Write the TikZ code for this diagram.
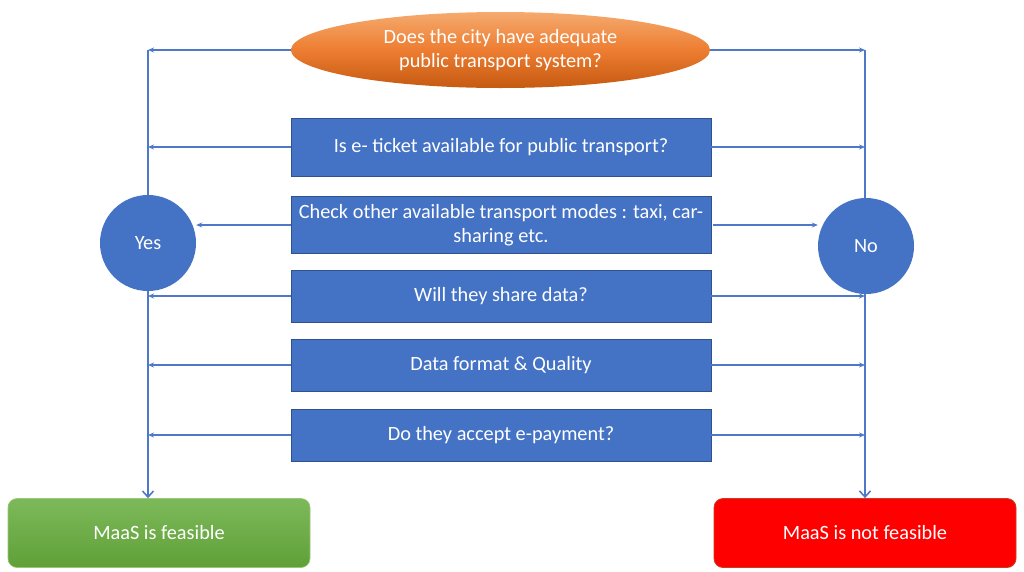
\documentclass[tikz,border=0pt]{standalone}
\usepackage{fontspec}
\setmainfont{Carlito}
\usetikzlibrary{shapes.geometric,arrows.meta}
\definecolor{boxblue}{RGB}{68,114,196}
\definecolor{boxedge}{RGB}{47,82,143}
\definecolor{lineblue}{RGB}{80,120,200}
\definecolor{orTop}{RGB}{245,170,110}
\definecolor{orBot}{RGB}{197,90,17}
\definecolor{grTop}{RGB}{125,185,90}
\definecolor{grBot}{RGB}{95,160,55}
\definecolor{rdEdge}{RGB}{200,60,40}
\begin{document}
\begin{tikzpicture}[x=1pt,y=-1pt,
  every node/.style={font=\fontsize{20.3}{24}\selectfont, text=white},
  qbox/.style={rectangle, fill=boxblue, draw=boxedge, line width=0.6pt,
    minimum width=420pt, minimum height=52pt, inner sep=0pt, align=center},
  qoval/.style={ellipse, top color=orTop, bottom color=orBot, middle color={rgb,255:red,237;green,125;blue,49},
    minimum width=419pt, minimum height=76pt, inner sep=0pt, align=center},
  answer/.style={circle, fill=boxblue, minimum size=96pt, inner sep=0pt},
  result/.style={rectangle, rounded corners=9pt, minimum width=302pt, minimum height=69pt, inner sep=0pt},
  conn/.style={draw=lineblue, line width=1.8pt},
  harrow/.style={conn, -{Stealth[length=6pt,width=5pt]}},
  varrow/.style={conn, -{Straight Barb[length=6pt,width=11pt,line width=1.6pt]}}
]
\useasboundingbox (0,0) rectangle (1024,571);

\node[qoval] (q0) at (500.5,50) {Does the city have adequate\\public transport system?};
\node[qbox, minimum height=58pt] (q1) at (501,147) {Is e- ticket available for public transport?};
\node[qbox, minimum height=57pt] (q2) at (501,225) {Check other available transport modes : taxi, car-\\sharing etc.};
\node[qbox] (q3) at (501,296) {Will they share data?};
\node[qbox] (q4) at (501,365) {Data format \& Quality};
\node[qbox] (q5) at (501,435) {Do they accept e-payment?};

\node[answer] (yes) at (148,243) {Yes};
\node[answer] (no) at (866,246) {No};

\node[result, top color=grTop, bottom color=grBot, draw=grTop!80!white, line width=0.6pt] (feas) at (159,533) {MaaS is feasible};
\node[result, fill=red, draw=rdEdge, line width=0.8pt] (notfeas) at (865,533) {MaaS is not feasible};

% left trunk
\draw[conn] (yes.north) -- (yes.north |- q0.west);
\draw[varrow] (yes.south) -- (yes.south |- feas.north);
% right trunk
\draw[conn] (no.north -| 865,0) -- (865,0 |- q0.east);
\draw[varrow] (no.south -| 865,0) -- (865,0 |- notfeas.north);

% left arrows
\draw[harrow] (q0.west) -- (yes.north |- q0.west);
\draw[harrow] (q1.west) -- (yes.north |- q1.west);
\draw[harrow] (q2.west) -- (q2.west -| yes.east);
\draw[harrow] (q3.west) -- (yes.south |- q3.west);
\draw[harrow] (q4.west) -- (yes.south |- q4.west);
\draw[harrow] (q5.west) -- (yes.south |- q5.west);

% right arrows
\draw[harrow] (q0.east) -- (865,0 |- q0.east);
\draw[harrow] (q1.east) -- (865,0 |- q1.east);
\draw[harrow] ([xshift=2pt]q2.east) -- (q2.east -| no.west);
\draw[harrow] (q3.east) -- (865,0 |- q3.east);
\draw[harrow] (q4.east) -- (865,0 |- q4.east);
\draw[harrow] (q5.east) -- (865,0 |- q5.east);
\end{tikzpicture}
\end{document}
